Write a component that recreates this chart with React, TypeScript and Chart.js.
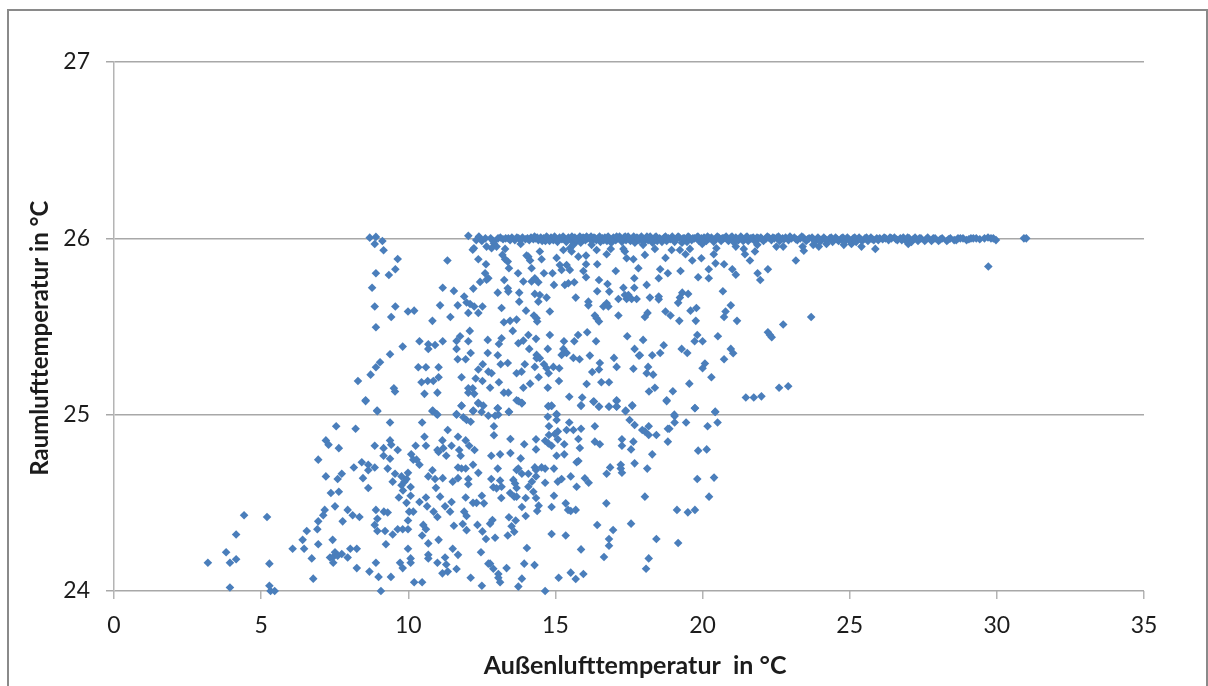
import React, { useEffect, useRef } from "react";
import { Chart, registerables } from "chart.js";

Chart.register(...registerables);

const xAxisTitle = "  Außenlufttemperatur  in °C";
const yAxisTitle = "Raumlufttemperatur in °C    ";
const xTicks = [0, 5, 10, 15, 20, 25, 30, 35];
const yTicks = [24, 25, 26, 27];

type P = [number, number];

const cloudLowerLeft: P[] = [
  [3.19,24.16],[3.81,24.22],[3.94,24.16],[4.15,24.18],[3.94,24.02],[4.15,24.32],[4.42,24.43],[5.2,24.42],[5.28,24.155],[5.28,24.03],[5.32,24.0],[5.46,24.0],
  [6.07,24.24],[6.46,24.24],[6.41,24.29],[6.55,24.34],[6.91,24.35],[6.94,24.265],[6.72,24.185],[6.77,24.07],[6.94,24.395],[7.11,24.43],[7.16,24.46],[7.51,24.48],
  [7.77,24.395],[7.94,24.46],[8.11,24.43],[8.34,24.42],[7.43,24.29],[7.34,24.19],[7.43,24.19],[7.51,24.22],[7.6,24.2],[7.74,24.21],[7.45,24.16],[7.94,24.19],
  [8.03,24.24],[8.25,24.24],[8.25,24.13],[8.68,24.11],[8.9,24.16],[8.99,24.08],[9.07,24.0],[9.41,24.08],[9.24,24.265],[9.47,24.32],[9.21,24.34],[8.95,24.34],
  [8.86,24.375],[8.95,24.41],[8.9,24.46],[9.17,24.45],[9.3,24.445],[9.64,24.35],[9.81,24.35],[9.99,24.35],[9.99,24.4],[10.03,24.45],[10.17,24.45],[9.94,24.5],
  [9.68,24.53],[10.08,24.54],[10.38,24.505],[10.6,24.53],[10.64,24.48],[10.86,24.45],[10.99,24.42],[10.51,24.375],[10.6,24.35],[10.47,24.315],[10.68,24.27],
  [11.03,24.29],[9.99,24.24],[10.08,24.185],[10.08,24.16],[9.72,24.16],[9.81,24.13],[10.2,24.05],[10.47,24.05],[10.68,24.205],[10.68,24.185],[10.99,24.16],
  [11.25,24.19],[11.29,24.15],[11.34,24.11],[11.16,24.1],[11.64,24.125],[11.69,24.205],[11.51,24.24],[12.12,24.075],[11.55,24.37],[11.85,24.38],[11.98,24.345],
  [12.35,24.375],[11.9,24.45],[11.98,24.425],[11.25,24.48],[11.42,24.45],[11.47,24.505],[11.08,24.535],[10.94,24.585],[11.95,24.53],[12.2,24.5],[12.32,24.5],
  [11.17,24.64],[10.91,24.635],[10.68,24.65],[10.82,24.685],[11.51,24.62],[11.69,24.64],[12.04,24.635],[12.04,24.605],[11.69,24.7],[11.81,24.695],[11.95,24.695],
  [12.2,24.716],[12.38,24.67],[11.29,24.767],[11.03,24.788],[10.99,24.8],[11.19,24.81],[10.6,24.824],[10.25,24.824],[10.55,24.875],[11.16,24.854],[11.47,24.824],
  [11.73,24.8],[11.78,24.767],[11.95,24.854],[12.07,24.824],[12.25,24.8],[11.69,24.875],[11.34,24.913],[11.64,25.0],[11.87,24.985],[11.98,24.97],[12.12,24.96],
  [11.81,25.05],[12.2,25.02],[12.38,25.064],[10.82,25.02],[10.99,25.0],[10.47,24.956],[9.38,24.956],[8.95,25.02],[8.55,25.077],[8.21,24.92],[7.55,24.934],
  [7.2,24.854],[7.29,24.83],[7.64,24.81],[6.94,24.745],[7.2,24.65],[7.6,24.635],[7.74,24.665],[7.37,24.556],[7.64,24.563],[8.15,24.7],[8.42,24.73],[8.64,24.716],
  [8.64,24.685],[8.86,24.7],[8.46,24.64],[8.64,24.584],[8.86,24.824],[9.16,24.81],[9.16,24.767],[9.38,24.854],[9.42,24.83],[9.64,24.8],[9.38,24.75],[9.3,24.694],
  [9.55,24.665],[9.47,24.62],[9.77,24.65],[9.94,24.635],[9.77,24.6],[9.87,24.62],[9.82,24.57],[9.99,24.67],[10.08,24.59],[10.1,24.775],[10.17,24.745],[10.28,24.745],[10.38,24.716],
];

const cloudLowerRight: P[] = [
  [12.5,24.03],[12.47,24.22],[12.72,24.155],[12.78,24.155],[12.89,24.126],[13.06,24.096],[13.06,24.075],[13.12,24.05],[13.34,24.13],[13.74,24.025],[13.86,24.07],
  [13.94,24.155],[14.29,24.147],[14.03,24.244],[14.65,24.0],[15.11,24.075],[15.52,24.104],[15.69,24.068],[15.95,24.096],[15.87,24.236],[14.87,24.323],[15.35,24.315],
  [16.42,24.374],[16.96,24.346],[16.82,24.295],[16.82,24.257],[16.65,24.193],[17.57,24.382],[18.43,24.295],[19.17,24.272],[18.17,24.185],[18.08,24.126],[18.04,24.535],
  [19.13,24.46],[19.5,24.446],[19.74,24.46],[20.22,24.535],[19.82,24.635],[20.39,24.643],[19.85,24.796],[20.14,24.803],[20.17,24.934],[20.51,24.956],[19.44,24.956],
  [19.05,24.992],[19.05,24.956],[20.43,25.015],[19.74,25.036],[18.82,24.92],[18.87,24.92],[18.82,24.847],[18.43,24.885],[18.17,24.934],[18.17,24.885],[17.95,24.913],
  [18.04,24.905],[17.69,24.941],[17.52,24.97],[17.65,24.847],[17.57,24.803],[17.26,24.86],[17.26,24.824],[18.29,24.775],[17.69,24.724],[18.12,24.694],[17.22,24.716],
  [17.22,24.694],[17.26,24.671],[16.86,24.701],[16.74,24.665],[16.73,24.497],[16.34,24.934],[16.34,24.847],[16.51,24.832],[17.38,25.02],[17.08,25.045],[16.82,25.045],
  [16.48,25.045],[16.29,25.074],[17.08,25.077],[17.61,25.05],[18.78,25.077],[15.87,25.05],[14.76,25.049],[14.87,25.049],[14.74,24.988],[15.04,25.0],[15.04,24.97],
  [15.47,24.956],[14.78,24.934],[15.08,24.905],[14.98,24.89],[14.78,24.885],[14.65,24.852],[14.76,24.837],[14.87,24.824],[15.08,24.86],[15.3,24.832],[15.38,24.913],
  [15.61,24.913],[15.87,24.92],[15.78,24.862],[15.83,24.811],[15.04,24.767],[15.3,24.775],[14.34,24.86],[14.34,24.803],[13.94,24.832],[13.47,24.862],[13.47,24.782],
  [13.82,24.752],[12.82,24.767],[13.12,24.775],[12.91,24.934],[12.91,24.883],[13.42,25.015],[13.06,25.0],[12.95,24.994],[12.72,24.994],[12.49,25.015],[13.04,25.036],
  [13.74,25.077],[13.86,25.064],[13.04,24.694],[13.74,24.694],[13.68,24.686],[13.86,24.665],[14.08,24.665],[14.3,24.701],[14.34,24.686],[14.53,24.701],[14.65,24.694],
  [14.95,24.694],[14.34,24.65],[14.2,24.62],[14.08,24.591],[14.65,24.614],[15.08,24.62],[15.21,24.635],[15.52,24.65],[15.78,24.737],[15.72,24.73],[16.0,24.639],
  [16.13,24.614],[15.72,24.591],[14.95,24.54],[15.35,24.497],[15.43,24.46],[15.52,24.454],[15.69,24.46],[14.87,24.476],[14.43,24.484],[14.38,24.454],[14.34,24.527],
  [14.25,24.563],[13.99,24.527],[13.68,24.535],[13.6,24.535],[13.86,24.476],[13.99,24.425],[13.42,24.418],[13.65,24.4],[13.51,24.367],[13.6,24.336],[13.38,24.315],
  [12.95,24.302],[12.64,24.295],[12.52,24.338],[12.78,24.382],[12.86,24.403],[13.16,24.527],[12.5,24.54],[12.57,24.497],[13.46,24.556],[13.68,24.584],[13.57,24.63],
  [13.63,24.61],[13.12,24.627],[13.17,24.591],[12.89,24.588],[13.0,24.582],[12.82,24.635],
];

const cloudUpperLeft: P[] = [
  [8.69,26.004],[8.9,26.008],[9.12,25.985],[8.86,25.968],[9.16,25.932],[9.64,25.883],[9.56,25.825],[9.34,25.792],[8.9,25.802],[8.77,25.72],[11.33,25.874],[8.86,25.613],
  [9.56,25.613],[9.42,25.554],[9.99,25.585],[10.2,25.59],[8.9,25.496],[11.17,25.72],[11.55,25.702],[11.9,25.67],[11.08,25.62],[11.68,25.62],[11.98,25.636],[12.1,25.628],
  [12.24,25.613],[12.52,25.613],[12.04,25.577],[12.38,25.577],[11.43,25.554],[10.82,25.532],[12.21,25.715],[12.44,25.753],[12.61,25.802],[12.72,25.774],[12.66,25.765],
  [12.38,25.881],[12.64,25.853],[12.23,25.944],[12.19,25.935],[12.04,26.014],[12.66,25.953],[12.83,25.944],[13.0,25.953],[12.91,25.972],[13.29,25.94],[13.2,25.906],
  [13.29,25.881],[13.38,25.868],[13.42,25.83],[13.73,25.802],[13.82,25.968],[14.08,25.896],[14.14,25.874],[14.02,25.902],[14.47,25.925],[14.53,25.881],[15.04,25.889],
  [14.19,25.83],[14.61,25.802],[14.9,25.802],[15.15,25.849],[15.38,25.849],[15.21,25.821],[15.49,25.821],[15.27,25.934],[15.49,25.944],[15.61,25.963],[15.55,25.925],
  [15.78,25.896],[16.04,25.902],[16.04,25.853],[15.95,25.815],[16.04,25.779],[16.23,25.963],[16.4,25.934],[16.42,25.853],[16.74,25.91],[16.88,25.94],[17.05,25.815],
  [17.31,25.94],[17.36,25.925],[17.42,25.887],[17.65,25.881],[17.82,25.83],[16.48,25.764],[16.77,25.741],[16.83,25.698],[16.42,25.7],[17.31,25.72],[17.68,25.72],
  [17.68,25.774],[17.14,25.656],[17.36,25.679],[17.42,25.656],[17.59,25.656],[17.76,25.656],[17.48,25.679],[17.14,25.562],[17.44,25.445],[17.69,25.373],[17.84,25.335],
  [16.4,25.547],[16.48,25.528],[16.34,25.562],[16.12,25.641],[16.12,25.62],[16.74,25.632],[16.63,25.613],[16.8,25.613],[15.69,25.664],[13.91,25.755],[14.19,25.755],
  [14.3,25.774],[14.42,25.751],[14.95,25.736],[15.32,25.736],[15.44,25.745],[15.64,25.751],[13.26,25.764],[13.38,25.717],[13.4,25.698],[13.04,25.692],[13.77,25.692],
  [13.77,25.641],[13.17,25.605],[14.3,25.685],[14.47,25.679],[14.42,25.641],[14.7,25.664],[14.0,25.59],[14.81,25.585],[14.27,25.562],[14.36,25.547],[14.38,25.528],
  [13.25,25.524],[13.46,25.532],[13.68,25.539],[13.55,25.475],[12.09,25.475],[11.76,25.445],[11.64,25.418],[12.04,25.416],[11.17,25.416],[10.91,25.395],[10.68,25.399],
  [10.68,25.373],[10.38,25.416],[9.81,25.386],[9.38,25.343],[9.04,25.297],[8.9,25.269],[8.72,25.227],[8.29,25.191],[8.55,25.082],[8.94,25.023],[9.51,25.15],[9.55,25.131],
  [10.34,25.269],[10.6,25.269],[11.03,25.269],[10.45,25.184],[10.66,25.191],[10.85,25.191],[11.03,25.212],[10.55,25.118],[10.99,25.125],[10.83,25.023],[10.96,25.004],
  [11.64,25.373],[12.12,25.35],[11.68,25.314],[11.95,25.314],[12.7,25.424],[12.7,25.35],[13.17,25.433],[13.08,25.401],[13.04,25.337],[13.14,25.286],[13.38,25.293],
  [12.53,25.286],[12.38,25.256],[12.72,25.244],[12.83,25.235],[11.81,25.212],[12.29,25.205],[12.52,25.191],[13.08,25.184],[12.04,25.15],[12.19,25.15],[12.04,25.125],
  [12.24,25.118],[12.78,25.153],[13.25,25.125],[13.4,25.125],[13.68,25.082],[13.86,25.067],[11.81,25.051],[12.38,25.067],[12.55,25.051],[12.21,25.023],[13.04,25.036],
  [13.42,25.017],[11.64,25.004],[13.68,25.235],[13.85,25.244],[14.08,25.452],[14.34,25.43],[13.91,25.42],[13.74,25.405],[14.11,25.373],[13.96,25.286],[14.3,25.271],
  [14.43,25.212],[14.14,25.176],[13.91,25.153],[14.74,25.153],[14.36,25.339],[14.47,25.32],[14.36,25.32],[14.74,25.373],[14.81,25.452],[14.61,25.286],[14.7,25.263],
  [14.93,25.271],[15.13,25.263],[14.77,25.235],[15.12,25.191],[15.29,25.416],[15.64,25.416],[15.77,25.452],[16.08,25.467],[16.38,25.416],[15.27,25.373],[15.21,25.339],
  [15.38,25.35],[15.61,25.322],[15.82,25.314],[16.17,25.335],[16.51,25.293],[16.48,25.256],[16.25,25.242],[16.99,25.322],[17.08,25.271],[17.65,25.26],[16.56,25.184],
  [16.82,25.184],[16.06,25.174],[15.47,25.102],[15.91,25.097],[15.87,25.053],[16.31,25.074],[16.48,25.046],[16.82,25.046],[17.08,25.082],[17.08,25.046],[17.39,25.023],
  [17.61,25.053],[14.76,25.046],[14.87,25.051],[15.04,25.004],
];

const cloudUpperRight: P[] = [
  [18.04,25.906],[18.74,25.889],[18.38,25.94],[17.98,25.963],[18.56,25.825],[18.82,25.802],[18.51,25.774],[19.25,25.815],[18.1,25.736],[18.95,25.934],[19.23,25.934],
  [19.42,25.91],[19.57,25.94],[19.65,25.874],[19.96,25.887],[19.85,25.779],[20.21,25.825],[20.21,25.774],[20.44,25.858],[20.73,25.853],[20.38,25.91],[20.47,25.944],
  [19.99,25.968],[21.13,25.953],[21.01,25.825],[21.13,25.794],[21.4,25.94],[21.44,25.91],[21.61,25.874],[21.78,25.925],[21.86,25.963],[21.87,25.802],[21.96,25.764],
  [22.22,25.825],[22.51,25.953],[22.74,25.953],[23.17,25.874],[23.4,25.953],[23.44,25.93],[23.76,25.963],[23.95,25.953],[24.21,25.968],[24.8,25.963],[25.06,25.968],
  [25.4,25.953],[25.87,25.94],[26.99,25.968],[18.21,25.664],[18.51,25.67],[18.51,25.654],[20.69,25.7],[19.51,25.685],[19.31,25.692],[19.23,25.664],[19.17,25.634],
  [19.79,25.605],[19.59,25.59],[18.74,25.585],[18.91,25.562],[19.21,25.532],[19.77,25.532],[20.96,25.62],[20.78,25.585],[20.73,25.554],[21.17,25.532],[18.13,25.577],
  [18.04,25.554],[17.98,25.424],[17.87,25.337],[18.29,25.337],[18.56,25.35],[18.68,25.394],[19.29,25.373],[19.48,25.35],[19.82,25.452],[19.73,25.416],[20.0,25.416],
  [20.52,25.445],[20.96,25.373],[21.04,25.348],[20.73,25.314],[20.08,25.29],[20.0,25.263],[20.3,25.212],[19.55,25.176],[18.15,25.271],[18.1,25.235],[18.32,25.227],
  [18.38,25.153],[18.18,25.131],[18.99,25.133],[18.78,25.082],[19.74,25.038],[20.43,25.017],[19.04,25.0],[21.47,25.097],[21.74,25.097],[22.0,25.104],[22.6,25.153],
  [22.91,25.161],[22.22,25.467],[22.29,25.452],[22.35,25.439],[22.74,25.511],[23.69,25.554],[29.71,25.84],[29.97,25.99],[30.92,26.0],[31.0,26.0],
];

const ceilingBand: P[] = [
  [12.31,25.99],[12.4,26.01],[12.5,25.985],[12.62,26.0],[12.8,26.0],[12.9,25.985],[13.05,26.0],[13.22,25.995],[13.4,26.0],[13.52,26.005],[13.62,25.99],[13.75,26.0],[13.88,26.005],
  [13.98,25.995],[14.05,26.0],[14.17,26.005],[14.25,25.995],[14.33,26.0],[14.42,25.99],[14.5,26.005],[14.6,26.0],[14.66,25.985],[14.74,26.0],[14.85,26.005],[14.93,25.99],
  [15.0,26.0],[15.07,25.98],[15.14,26.005],[15.22,25.995],[15.3,26.0],[15.37,25.98],[15.44,26.005],[15.52,25.99],[15.6,26.0],[15.66,26.005],[15.73,25.985],[15.8,26.0],
  [15.86,25.975],[15.94,26.005],[16.02,25.99],[16.1,26.0],[16.17,26.0],[16.24,25.985],[16.31,26.005],[16.39,25.99],[16.46,26.0],[16.53,25.98],[16.6,26.0],[16.68,26.005],
  [16.75,25.985],[16.82,26.0],[16.9,25.975],[16.97,26.005],[17.05,25.99],[17.12,26.0],[17.18,26.01],[17.26,25.98],[17.33,26.005],[17.4,25.99],[17.47,26.01],[17.55,25.985],
  [17.62,26.0],[17.7,25.975],[17.77,26.005],[17.84,25.99],[17.92,26.01],[18.0,25.98],[18.07,26.0],[18.15,25.99],[18.22,26.01],[18.3,25.975],[18.38,26.005],[18.46,25.985],
  [18.54,26.0],[18.62,25.98],[18.7,26.005],[18.78,25.985],[18.9,25.995],[18.97,26.01],[19.05,25.98],[19.13,26.0],[19.21,26.005],[19.3,25.975],[19.38,26.0],[19.47,25.98],
  [19.55,26.005],[19.63,25.99],[19.72,26.0],[19.8,26.005],[19.88,25.985],[19.96,26.0],[20.05,26.005],[20.13,25.985],[20.22,26.0],[20.3,26.005],[20.38,25.98],[20.46,26.0],
  [20.55,26.005],[20.63,25.985],[20.72,26.0],[20.8,26.01],[20.88,25.985],[20.96,26.005],[21.05,25.98],[21.13,26.005],[21.22,25.99],[21.3,26.01],[21.38,25.985],[21.47,26.005],
  [21.55,25.985],[21.64,26.0],[21.72,26.005],[21.8,25.98],[21.9,26.0],[21.98,26.005],[22.07,25.985],[22.16,26.0],[22.25,26.005],[22.34,25.99],[22.44,26.0],[22.53,26.005],
  [22.62,25.985],[22.72,26.0],[22.82,26.005],[22.92,25.99],[23.02,26.0],[23.12,26.005],[23.22,25.99],[23.32,26.0],[23.42,26.005],[23.52,25.985],[23.62,26.0],[23.72,26.005],
  [23.82,25.98],[23.92,26.005],[24.02,25.985],[24.12,26.005],[24.22,25.985],[24.32,26.0],[24.42,25.98],[24.52,26.005],[24.62,25.985],[24.72,26.0],[24.82,25.98],[24.92,26.005],
  [25.02,25.985],[25.12,26.0],[25.22,25.98],[25.32,26.005],[25.42,25.985],[25.52,26.0],[25.62,25.985],[25.72,26.005],[25.82,25.99],[25.92,26.0],[26.02,26.0],[26.12,25.995],
  [26.22,26.0],[26.32,25.99],[26.42,26.0],[26.52,26.005],[26.62,25.99],[26.72,26.0],[26.82,26.005],[26.92,25.985],[27.02,26.0],[27.1,25.98],[27.22,26.005],[27.32,25.985],
  [27.42,26.0],[27.55,25.985],[27.65,26.005],[27.78,25.985],[27.9,26.0],[28.02,25.985],[28.14,26.0],[28.3,25.985],[28.42,26.0],[28.55,25.99],[28.68,26.0],[28.85,26.0],[28.97,25.99],
  [29.12,26.0],[29.3,26.0],[29.42,25.995],[29.58,26.0],[29.7,26.005],[29.8,26.0],[29.88,26.0],
];

const ceilingBandFill: P[] = [
  [13.13,26.005],[13.31,26.0],[13.46,25.99],[13.69,26.005],[13.82,25.99],[14.11,25.99],[14.29,26.01],[14.38,26.005],[14.55,25.985],[14.7,26.01],[14.8,25.985],[14.97,26.01],
  [15.1,25.995],[15.26,26.01],[15.41,25.995],[15.56,26.01],[15.7,25.995],[15.83,26.01],[15.98,26.0],[16.06,26.01],[16.21,26.01],[16.35,26.0],[16.5,26.01],[16.64,25.99],[16.79,26.01],
  [16.93,25.995],[17.08,26.01],[17.22,25.995],[17.37,26.01],[17.51,26.0],[17.66,26.01],[17.8,26.0],[17.96,26.0],[18.11,26.01],[18.26,25.995],[18.42,26.01],[18.58,25.995],
  [18.74,26.01],[18.84,26.0],[19.01,25.995],[19.17,26.01],[19.34,26.0],[19.51,26.01],[19.67,26.0],[19.84,26.01],[20.0,25.99],[20.17,26.01],[20.34,25.995],[20.5,26.01],[20.67,26.0],
  [20.84,25.995],[21.0,26.01],[21.17,25.99],[21.34,26.0],[21.51,26.01],[21.68,26.0],[21.85,26.005],[22.02,25.995],[22.2,26.01],[22.39,26.005],[22.58,26.01],[22.77,25.995],
  [22.97,26.01],[23.17,25.995],[23.37,26.01],[23.57,25.995],[23.77,25.995],[23.97,25.995],[24.17,25.995],[24.37,26.005],[24.57,25.995],[24.77,26.005],[24.97,25.995],
  [25.17,26.005],[25.37,25.995],[25.57,26.005],[25.77,25.995],[25.97,25.99],[26.17,26.005],[26.37,26.005],[26.57,25.995],[26.77,25.99],[26.97,26.005],[27.16,25.995],
  [27.37,26.0],[27.6,25.995],[27.84,26.0],[28.08,25.995],[28.36,25.995],[28.62,25.99],[28.76,26.0],[29.05,25.995],[29.2,26.0],
];

const allPoints = [...cloudLowerLeft, ...cloudLowerRight, ...cloudUpperLeft, ...cloudUpperRight, ...ceilingBand, ...ceilingBandFill];

const gridColor = "#a8a8a8";
const axisColor = "#b4b4b4";
const markColor = "#4a7ebb";
const textColor = "#1c1c1c";

export default function App() {
  const ref = useRef<HTMLCanvasElement>(null);
  useEffect(() => {
    document.body.style.margin = "0";
    document.body.style.background = "#fff";
    const chart = new Chart(ref.current!, {
      type: "scatter",
      data: {
        datasets: [
          {
            data: allPoints.map(([x, y]) => ({ x, y })),
            backgroundColor: markColor,
            borderColor: markColor,
            borderWidth: 0,
            pointStyle: "rectRot",
            pointRadius: 4.3,
            clip: false as any,
          },
        ],
      },
      options: {
        animation: false,
        responsive: false,
        devicePixelRatio: 1,
        layout: { padding: { top: 62, right: 64, left: 0, bottom: 0 } },
        plugins: { legend: { display: false }, tooltip: { enabled: false } },
        scales: {
          x: {
            type: "linear",
            min: 0,
            max: 35,
            afterBuildTicks: (s: any) => { s.ticks = xTicks.map((value) => ({ value })); },
            afterFit: (s: any) => { s.height = 95; },
            grid: { drawOnChartArea: false, drawTicks: true, tickLength: 8, color: axisColor, lineWidth: 1.5 },
            border: { display: false },
            ticks: { color: textColor, font: { family: "Lato", size: 23 }, padding: 13, maxRotation: 0 },
            title: { display: true, text: xAxisTitle, color: textColor, font: { family: "Lato", size: 25, weight: "bold" }, padding: { top: 8, bottom: 5 } },
          },
          y: {
            type: "linear",
            min: 24,
            max: 27,
            afterBuildTicks: (s: any) => { s.ticks = yTicks.map((value) => ({ value })); },
            afterFit: (s: any) => { s.width = 114; },
            grid: { color: gridColor, lineWidth: 1.5, drawTicks: true, tickLength: 8 },
            border: { display: true, color: axisColor, width: 1.5 },
            ticks: { color: textColor, font: { family: "Lato", size: 23 }, padding: 16 },
            title: { display: true, text: yAxisTitle, color: textColor, font: { family: "Lato", size: 24, weight: "bold" }, padding: { top: 26, bottom: 0 } },
          },
        },
      },
    });
    return () => chart.destroy();
  }, []);
  return (
    <div style={{ position: "fixed", left: 0, top: 0, width: 1208, height: 686, overflow: "hidden", background: "#fff" }}>
      <canvas ref={ref} width={1208} height={686} style={{ position: "absolute", left: 0, top: 0, display: "block" }} />
      <div style={{ position: "absolute", left: 7, top: 9, width: 1197, height: 700, border: "2px solid #8a8a8a", pointerEvents: "none" }} />
    </div>
  );
}
